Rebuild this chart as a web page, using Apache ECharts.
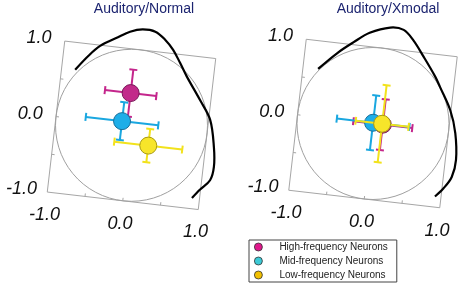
<!DOCTYPE html>
<html><head><meta charset="utf-8">
<script src="https://cdn.jsdelivr.net/npm/echarts@6/dist/echarts.min.js"></script>
<style>html,body{margin:0;padding:0;background:#fff}#c{width:461px;height:285px}</style>
</head><body><div id="c"></div>
<script>
// ---- data ----
const panelTitles = ['Auditory/Normal', 'Auditory/Xmodal'];
const classNames = ['High-frequency Neurons', 'Mid-frequency Neurons', 'Low-frequency Neurons'];
const tickValues = [-1, 0, 1];
const tickLabels = ['-1.0', '0.0', '1.0'];
const boxTicks = [-0.5, 0, 0.5];

// Auditory/Normal: mean vector (x, y) and error (x, y) per class
const normalX = [-0.06, -0.13, 0.25];
const normalY = [0.42, 0.04, -0.24];
const normalXErr = [0.34, 0.48, 0.45];
const normalYErr = [0.31, 0.25, 0.22];

// Auditory/Xmodal
const xmodalX = [0.13, 0.0, 0.12];
const xmodalY = [0.0, 0.01, 0.01];
const xmodalXErr = [0.39, 0.48, 0.35];
const xmodalYErr = [0.335, 0.36, 0.51];

// black tuning curves
const arcNormalX = [-0.82, -0.67, -0.53, -0.31, -0.16, 0.0, 0.17, 0.31, 0.43, 0.54, 0.65, 0.86, 1.02, 1.11, 1.14, 1.11, 0.99, 0.90];
const arcNormalY = [0.64, 0.84, 0.99, 1.13, 1.22, 1.27, 1.26, 1.17, 1.05, 0.89, 0.72, 0.43, 0.19, -0.16, -0.42, -0.60, -0.74, -0.86];
const arcXmodalX = [-0.80, -0.58, -0.38, -0.18, 0.08, 0.26, 0.40, 0.56, 0.74, 0.82, 0.99, 1.09, 1.14, 1.11, 1.02, 0.92];
const arcXmodalY = [0.63, 0.86, 1.03, 1.18, 1.28, 1.27, 1.15, 0.95, 0.71, 0.58, 0.29, 0.0, -0.35, -0.58, -0.74, -0.86];

// ---- styling ----
const barColors = ['#c4268c', '#1aa7e0', '#f2e21c'];
const markerFill = ['#c22a8a', '#1eaee8', '#f7e52a'];
const markerStroke = ['#7a1a5a', '#1a6f9a', '#a89a10'];
const legendColors = ['#e0188c', '#3ccad6', '#f2c000'];
const ANGLE = 6.6 * Math.PI / 180;
const COS = Math.cos(ANGLE), SIN = Math.sin(ANGLE);
const CAP_PX = 4;

function makeProj(api) {
  const c = api.coord([0, 0]);
  return function (x, y) {
    const p = api.coord([x, y]);
    const dx = p[0] - c[0], dy = p[1] - c[1];
    return [c[0] + dx * COS - dy * SIN, c[1] + dx * SIN + dy * COS];
  };
}
function unitPx(api) { return api.coord([1, 0])[0] - api.coord([0, 0])[0]; }
function seg(a, b, style) {
  return { type: 'line', shape: { x1: a[0], y1: a[1], x2: b[0], y2: b[1] }, style: style };
}

function frameRender(params, api) {
  const P = makeProj(api);
  const u = unitPx(api);
  const c = P(0, 0);
  const st = { stroke: '#a6a6a6', lineWidth: 1, fill: null };
  const ch = [
    { type: 'polygon', shape: { points: [P(-1, 1), P(1, 1), P(1, -1), P(-1, -1)] }, style: st },
    { type: 'circle', shape: { cx: c[0], cy: c[1], r: u }, style: { stroke: '#a0a0a0', lineWidth: 1, fill: null } }
  ];
  const t = 3 / u;
  boxTicks.forEach(v => {
    ch.push(seg(P(-1, v), P(-1 + t, v), { stroke: '#a6a6a6', lineWidth: 1 }));
    ch.push(seg(P(v, -1), P(v, -1 + t), { stroke: '#a6a6a6', lineWidth: 1 }));
  });
  return { type: 'group', children: ch };
}

function labelRender(params, api) {
  const P = makeProj(api);
  const u = unitPx(api);
  const v = api.value(0);
  const txt = tickLabels[params.dataIndex];
  const font = 'italic 18px "Liberation Sans", Arial, sans-serif';
  const a = P(-102 / u, v);
  const b = P(v, -99 / u);
  return { type: 'group', children: [
    { type: 'text', x: a[0], y: a[1], style: { text: txt, font: font, fill: '#111', align: 'center', verticalAlign: 'middle' } },
    { type: 'text', x: b[0], y: b[1], style: { text: txt, font: font, fill: '#111', align: 'center', verticalAlign: 'middle' } }
  ] };
}

function arcRender(xs, ys) {
  return function (params, api) {
    if (params.dataIndex !== 0) return null;
    const P = makeProj(api);
    const pts = xs.map((x, i) => P(x, ys[i]));
    return { type: 'polyline', shape: { points: pts, smooth: 0.35 }, style: { stroke: '#000', lineWidth: 2.2, fill: null } };
  };
}

function neuronRender(k) {
  return function (params, api) {
    const P = makeProj(api);
    const u = unitPx(api);
    const x = api.value(0), y = api.value(1), ex = api.value(2), ey = api.value(3);
    const h = CAP_PX / u;
    const ls = { stroke: barColors[k], lineWidth: 2 };
    const m = P(x, y);
    return { type: 'group', children: [
      seg(P(x - ex, y), P(x + ex, y), ls),
      seg(P(x, y - ey), P(x, y + ey), ls),
      seg(P(x - ex, y - h), P(x - ex, y + h), ls),
      seg(P(x + ex, y - h), P(x + ex, y + h), ls),
      seg(P(x - h, y - ey), P(x + h, y - ey), ls),
      seg(P(x - h, y + ey), P(x + h, y + ey), ls),
      { type: 'circle', shape: { cx: m[0], cy: m[1], r: 8.5 }, style: { fill: markerFill[k], stroke: markerStroke[k], lineWidth: 1 } }
    ] };
  };
}

const panels = [
  { xs: normalX, ys: normalY, ex: normalXErr, ey: normalYErr, ax: arcNormalX, ay: arcNormalY },
  { xs: xmodalX, ys: xmodalY, ex: xmodalXErr, ey: xmodalYErr, ax: arcXmodalX, ay: arcXmodalY }
];
const gridPos = [
  { left: 55.5, top: 49.3, width: 152, height: 152 },
  { left: 297, top: 47.5, width: 152, height: 152 }
];

const series = [];
panels.forEach((p, i) => {
  const base = { type: 'custom', coordinateSystem: 'cartesian2d', xAxisIndex: i, yAxisIndex: i, silent: true, clip: false };
  series.push(Object.assign({}, base, { name: 'frame' + i, data: [[0, 0]], renderItem: frameRender }));
  series.push(Object.assign({}, base, { name: 'labels' + i, data: tickValues.map(v => [v, v]), renderItem: labelRender }));
  series.push(Object.assign({}, base, { name: 'arc' + i, data: p.ax.map((x, j) => [x, p.ay[j]]), renderItem: arcRender(p.ax, p.ay) }));
  classNames.forEach((n, k) => {
    series.push(Object.assign({}, base, {
      name: n, itemStyle: { color: legendColors[k] },
      data: [[p.xs[k], p.ys[k], p.ex[k], p.ey[k]]],
      encode: { x: 0, y: 1 },
      renderItem: neuronRender(k)
    }));
  });
});

const axisBase = { type: 'value', min: -1, max: 1, show: false };
const option = {
  animation: false,
  backgroundColor: '#fff',
  grid: gridPos.map(g => Object.assign({ outerBoundsMode: 'none', containLabel: false }, g)),
  xAxis: gridPos.map((g, i) => Object.assign({ gridIndex: i }, axisBase)),
  yAxis: gridPos.map((g, i) => Object.assign({ gridIndex: i }, axisBase)),
  legend: {
    orient: 'vertical', left: 249, top: 240,
    padding: [1, 9, 1, 5],
    borderColor: '#444', borderWidth: 1,
    itemWidth: 8, itemHeight: 8, itemGap: 2,
    icon: 'circle',
    itemStyle: { borderColor: '#333', borderWidth: 0.8 },
    selectedMode: false,
    textStyle: { fontSize: 10, color: '#222', fontFamily: '"Liberation Sans", Arial, sans-serif', lineHeight: 12, padding: [0, 0, 0, 12] },
    data: classNames.map((n, k) => ({ name: n, itemStyle: { color: legendColors[k] } }))
  },
  graphic: [
    { type: 'text', x: 144, y: 9, style: { text: panelTitles[0], font: '14px "Liberation Sans", Arial, sans-serif', fill: '#1c2470', align: 'center', verticalAlign: 'middle' } },
    { type: 'text', x: 388, y: 9, style: { text: panelTitles[1], font: '14px "Liberation Sans", Arial, sans-serif', fill: '#1c2470', align: 'center', verticalAlign: 'middle' } }
  ],
  series: series
};
const chart = echarts.init(document.getElementById('c'));
chart.setOption(option);
</script>
</body></html>
